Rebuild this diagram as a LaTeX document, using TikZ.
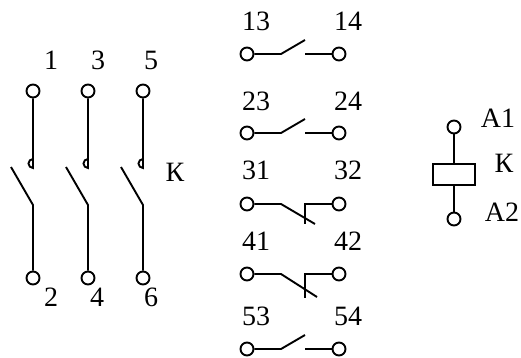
\documentclass[tikz,border=0pt]{standalone}
\usepackage{fontspec}
\setmainfont{Liberation Serif}
\tikzset{
  wire/.style = {line width=1.9pt, line join=miter},
  term/.style = {circle, draw, line width=1.9pt, inner sep=0pt, minimum size=13pt},
  lbl/.style = {inner sep=0pt, font=\fontsize{28}{32}\selectfont},
}
\begin{document}
\begin{tikzpicture}[x=1pt, y=-1pt]
  \useasboundingbox (0,0) rectangle (521,358);
  % main poles
  \node[term] (t1) at (33,91) {};
  \node[term] (t2) at (33,278) {};
  \node[term] (t3) at (88,91) {};
  \node[term] (t4) at (88,278) {};
  \node[term] (t5) at (143,91) {};
  \node[term] (t6) at (143,278) {};
  \coordinate (h1) at (33,168);
  \coordinate (h3) at (88,168);
  \coordinate (h5) at (143,168);
  \coordinate (k2) at (33,205);
  \coordinate (k4) at (88,205);
  \coordinate (k6) at (143,205);
  \coordinate (e2) at (11,167);
  \coordinate (e4) at (66,167);
  \coordinate (e6) at (121,167);
  \draw[wire] (t1) -- (h1) arc (270:90:4.5pt);
  \draw[wire] (t3) -- (h3) arc (270:90:4.5pt);
  \draw[wire] (t5) -- (h5) arc (270:90:4.5pt);
  \draw[wire] (t2) -- (k2) -- (e2);
  \draw[wire] (t4) -- (k4) -- (e4);
  \draw[wire] (t6) -- (k6) -- (e6);
  \node[lbl] (n1) at (51,60) {1};
  \node[lbl] (n3) at (98,60) {3};
  \node[lbl] (n5) at (151,60) {5};
  \node[lbl] (n2) at (51,297) {2};
  \node[lbl] (n4) at (97,297) {4};
  \node[lbl] (n6) at (151,297) {6};
  \node[lbl] (nk) at (175,172) {К};
  % auxiliary contacts
  \node[term] (a13) at (247,54) {};
  \node[term] (a14) at (339,54) {};
  \node[term] (a23) at (247,133) {};
  \node[term] (a24) at (339,133) {};
  \node[term] (a31) at (247,204) {};
  \node[term] (a32) at (339,204) {};
  \node[term] (a41) at (247,274) {};
  \node[term] (a42) at (339,274) {};
  \node[term] (a53) at (247,349) {};
  \node[term] (a54) at (339,349) {};
  \coordinate (b13) at (281,54);
  \coordinate (c13) at (305,40);
  \coordinate (d14) at (305,54);
  \coordinate (b23) at (281,133);
  \coordinate (c23) at (305,119);
  \coordinate (d24) at (305,133);
  \coordinate (b31) at (281,204);
  \coordinate (c31) at (315,224);
  \coordinate (d32) at (305,204);
  \coordinate (f32) at (305,224);
  \coordinate (b41) at (281,274);
  \coordinate (c41) at (317,297);
  \coordinate (d42) at (305,274);
  \coordinate (f42) at (305,298);
  \coordinate (b53) at (281,349);
  \coordinate (c53) at (305,335);
  \coordinate (d54) at (305,349);
  \draw[wire] (a13) -- (b13) -- (c13);
  \draw[wire] (a14) -- (d14);
  \draw[wire] (a23) -- (b23) -- (c23);
  \draw[wire] (a24) -- (d24);
  \draw[wire] (a31) -- (b31) -- (c31);
  \draw[wire] (a32) -- (d32) -- (f32);
  \draw[wire] (a41) -- (b41) -- (c41);
  \draw[wire] (a42) -- (d42) -- (f42);
  \draw[wire] (a53) -- (b53) -- (c53);
  \draw[wire] (a54) -- (d54);
  \node[lbl] (n13) at (256,21) {13};
  \node[lbl] (n14) at (348,21) {14};
  \node[lbl] (n23) at (256,101) {23};
  \node[lbl] (n24) at (348,101) {24};
  \node[lbl] (n31) at (256,170) {31};
  \node[lbl] (n32) at (348,170) {32};
  \node[lbl] (n41) at (256,241) {41};
  \node[lbl] (n42) at (348,241) {42};
  \node[lbl] (n53) at (256,316) {53};
  \node[lbl] (n54) at (348,316) {54};
  % coil
  \node[draw, wire, inner sep=0pt, minimum width=42pt, minimum height=21pt] (coil) at (454,174.5) {};
  \node[term] (ca1) at (454,127) {};
  \node[term] (ca2) at (454,219) {};
  \draw[wire] (ca1) -- (coil);
  \draw[wire] (ca2) -- (coil);
  \node[lbl] (na1) at (498,118) {A1};
  \node[lbl] (nkc) at (504,163) {К};
  \node[lbl] (na2) at (502,212) {A2};
\end{tikzpicture}
\end{document}
